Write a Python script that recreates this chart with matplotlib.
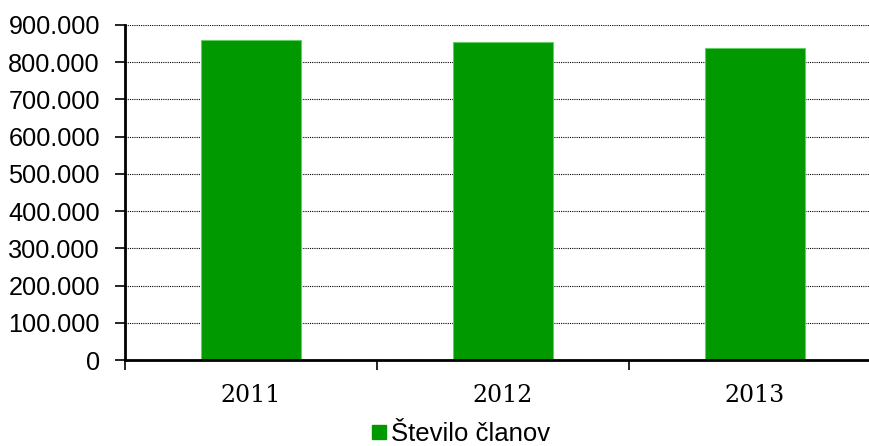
import matplotlib.pyplot as plt
from matplotlib.lines import Line2D
from matplotlib.ticker import FuncFormatter

# Data
years = ['2011', '2012', '2013']
members = [861000, 854000, 837000]
series_name = 'Število članov'

fig = plt.figure(figsize=(8.7, 4.46), dpi=100)
ax = fig.add_axes([125 / 870, (446 - 360) / 446, (881 - 125) / 870, (360 - 25) / 446])

x = range(len(years))
ax.bar(x, members, width=0.4, color='#009900', edgecolor='#66cc66', linewidth=0.8, zorder=3)

ax.set_xlim(-0.5, 2.5)
ax.set_ylim(0, 900000)
ax.set_yticks(range(0, 900001, 100000))
ax.yaxis.set_major_formatter(FuncFormatter(lambda v, p: f'{int(v):,}'.replace(',', '.')))
ax.grid(axis='y', color='black', linestyle=(0, (1, 1)), linewidth=0.8, zorder=0)

ax.set_xticks(list(x))
ax.set_xticklabels(years, family='DejaVu Serif', fontsize=17)
ax.set_xticks([-0.5, 0.5, 1.5, 2.5], minor=True)
ax.tick_params(axis='x', which='major', length=0, pad=17)
ax.tick_params(axis='x', which='minor', length=7, width=1.2, direction='out')
ax.tick_params(axis='y', length=7, width=1.2, labelsize=18.2, pad=11)
for lbl in ax.get_yticklabels():
    lbl.set_family('Liberation Sans')

for s in ['top', 'right']:
    ax.spines[s].set_visible(False)
for s in ['left', 'bottom']:
    ax.spines[s].set_linewidth(2)
    ax.spines[s].set_zorder(4)

handle = Line2D([], [], marker='s', linestyle='none', color='#009900', markersize=9.5)
fig.legend([handle], [series_name], loc='center', bbox_to_anchor=(460 / 870, 1 - 434 / 446),
           frameon=False, prop={'family': 'Liberation Sans', 'size': 18.5},
           handlelength=0.7, handletextpad=0.15, borderaxespad=0)

fig.savefig('out.png', dpi=100)
